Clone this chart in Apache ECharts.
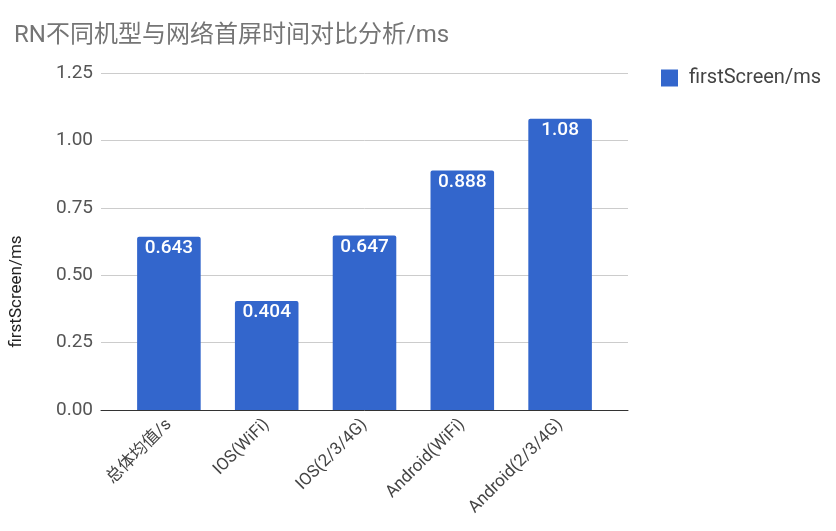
<!DOCTYPE html>
<html>
<head>
<meta charset="utf-8">
<script src="https://cdn.jsdelivr.net/npm/echarts@6/dist/echarts.min.js"></script>
<style>
    html, body { margin: 0; padding: 0; background: #fff; }
    #main { width: 836px; height: 531px; }
</style>
</head>
<body>
<div id="main"></div>
<script>
// 数据
const categories = ['总体均值/s', 'IOS(WiFi)', 'IOS(2/3/4G)', 'Android(WiFi)', 'Android(2/3/4G)'];
const firstScreen = [0.643, 0.404, 0.647, 0.888, 1.08];
const yTicks = [0, 0.25, 0.5, 0.75, 1.0, 1.25];

const FONT = 'Roboto, "Noto Sans CJK SC", sans-serif';

const myChart = echarts.init(document.getElementById('main'));

const option = {
    textStyle: { fontFamily: FONT },
    title: {
        text: 'RN不同机型与网络首屏时间对比分析/ms',
        left: 9,
        top: 19,
        textStyle: { fontSize: 24, fontWeight: 'normal', color: '#757575', fontFamily: FONT }
    },
    legend: {
        left: 656,
        top: 63,
        icon: 'rect',
        itemWidth: 17,
        itemHeight: 17,
        textStyle: { fontSize: 20, color: '#444', fontFamily: FONT, padding: [0, 0, 0, 6] },
        data: ['firstScreen/ms']
    },
    grid: [
        // 网格线与基线
        { left: 100, right: 208, top: 73, bottom: 121 },
        // 柱子所在区域
        { left: 120, right: 227, top: 73, bottom: 121 }
    ],
    xAxis: [
        {
            gridIndex: 0,
            type: 'category',
            data: [''],
            axisLine: { show: true, lineStyle: { color: '#333', width: 1 } },
            axisTick: { show: false },
            axisLabel: { show: false }
        },
        {
            gridIndex: 1,
            type: 'category',
            data: categories,
            axisLine: { show: false },
            axisTick: { show: false },
            axisLabel: {
                rotate: 45,
                margin: 12,
                fontSize: 17,
                color: '#444',
                fontFamily: FONT
            }
        }
    ],
    yAxis: [
        {
            gridIndex: 0,
            type: 'value',
            min: yTicks[0],
            max: yTicks[yTicks.length - 1],
            interval: 0.25,
            name: 'firstScreen/ms',
            nameLocation: 'middle',
            nameGap: 76,
            nameTextStyle: { fontSize: 17, color: '#222', padding: [0, 100, 0, 0] },
            axisLine: { show: false },
            axisTick: { show: false },
            axisLabel: {
                fontSize: 19,
                color: '#555',
                margin: 8,
                formatter: v => v.toFixed(2)
            },
            splitLine: { lineStyle: { color: '#ccc', width: 1 } }
        },
        {
            gridIndex: 1,
            type: 'value',
            min: yTicks[0],
            max: yTicks[yTicks.length - 1],
            show: false,
            splitLine: { show: false }
        }
    ],
    series: [
        {
            name: 'firstScreen/ms',
            type: 'bar',
            xAxisIndex: 1,
            yAxisIndex: 1,
            data: firstScreen,
            barWidth: '65%',
            itemStyle: { color: '#3366cc', borderRadius: [2, 2, 0, 0] },
            label: {
                show: true,
                position: 'insideTop',
                distance: 2,
                color: '#fff',
                fontSize: 19,
                fontWeight: 500,
                fontFamily: FONT
            }
        }
    ]
};

myChart.setOption(option);
window.addEventListener('resize', () => myChart.resize());
</script>
</body>
</html>
